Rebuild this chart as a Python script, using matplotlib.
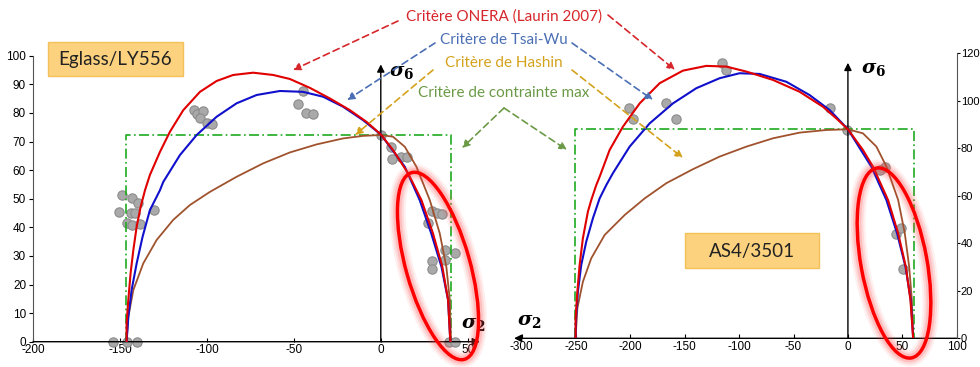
import numpy as np
import matplotlib
matplotlib.use('Agg')
import matplotlib.pyplot as plt
from matplotlib.patches import Ellipse, FancyBboxPatch, FancyArrowPatch
from matplotlib.transforms import IdentityTransform

plt.rcParams['font.family'] = ['Liberation Sans', 'DejaVu Sans']
plt.rcParams['axes.unicode_minus'] = False
plt.rcParams['mathtext.fontset'] = 'dejavuserif'

# ---- Eglass/LY556 (left panel) ----
eg_onera_x = [-146.2, -146.2, -145.2, -143.9, -142.3, -140.4, -138.1, -135.6, -132.8, -127, -121.3, -113.6,
              -104, -94.4, -84.9, -73.4, -61.9, -52.3, -40.8, -29.3, -17.8, -8.2, 0,
              7.1, 15.7, 23.4, 30, 35.4, 38.7, 40]
eg_onera_y = [0, 6.4, 14.6, 23.9, 32.1, 40.2, 47.2, 53.0, 58.3, 66.4, 73.4, 81.0,
              87.4, 91.2, 93.3, 94.1, 93.3, 91.9, 88.8, 85.1, 81.0, 76.9, 72.5,
              67, 58.9, 49.5, 37.9, 26.2, 14.6, 0]
eg_tsai_x = [-146.2, -145.2, -143.3, -140.4, -137, -132.8, -127, -125.1, -115.5, -105.9, -94.4, -82.9,
             -71.4, -58, -44.7, -33.2, -21.7, -10.2, 0, 13.8, 22.4, 29, 34.9, 38.7, 40]
eg_tsai_y = [0, 8.7, 18.1, 27.4, 36.7, 46.0, 53.0, 55.9, 65.3, 72.3, 78.7, 83.4,
             86.3, 87.7, 87.4, 85.7, 82.2, 77.5, 72.5, 61.2, 49.5, 37.9, 26.2, 14.6, 0]
eg_hashin_x = [-146.2, -145.2, -142.3, -136.6, -128.9, -119.4, -109.8, -98.3, -82.9, -67.6, -52.3, -37,
               -21.7, -10.2, 0, 7, 13.8, 20.5, 28.2, 33.9, 37.7, 39.7, 40.4]
eg_hashin_y = [0, 8.7, 18.1, 27.4, 35.6, 42.6, 47.8, 52.4, 57.7, 62.4, 66.2, 69,
               71.1, 72, 72.3, 71.7, 68.2, 61.2, 49.5, 37.9, 26.2, 14.6, 0]
eg_box = [-146.5, 40.6, 72.3]   # Yc, Yt, S
eg_pts_x = [-153.8, -146.2, -140.0, -149.0, -150.6, -143.3, -139.5, -143.9, -141.4, -146.2, -142.9, -138.5,
            -130.5, -107.3, -105.9, -102.1, -104.0, -100.2, -97.3, -44.6, -47.5, -43.1, -38.9, 0.4,
            5.6, 6.7, 11.9, 15.1, 27.2, 29.7, 32.4, 35.4, 36.8, 37.2, 29.7, 29.7, 42.9, 39.3, 42.5]
eg_pts_y = [0, 0, 0, 51.3, 45.5, 50.1, 48.4, 44.9, 45.1, 41.6, 40.8, 41.1,
            46.0, 81.2, 79.8, 80.8, 78.1, 76.6, 76.3, 87.8, 83.3, 80.1, 79.8, 72.3,
            68.2, 63.8, 64.5, 64.7, 41.6, 45.8, 44.9, 44.5, 32.1, 28.6, 28.3, 25.4, 31.1, 0, 0]

# ---- AS4/3501 (right panel) ----
as_onera_x = [-250.4, -250.4, -248.8, -246.7, -243.7, -239.1, -236, -231.4, -228.3, -219.1, -206.9, -191.5,
              -173.1, -151.7, -130.2, -111.8, -93.4, -69, -44.4, -23, -10.7, 0,
              13.8, 23, 36.9, 46.2, 53.2, 57.5, 60]
as_onera_y = [0, 8.4, 19.6, 30.9, 42.1, 53.3, 58.2, 64.5, 68.0, 79.3, 89.1, 98.9,
              107.4, 112.7, 114.7, 114.4, 112.3, 108.8, 103.8, 97.5, 92.6, 88,
              79.3, 72.3, 58.2, 44.2, 30.2, 16.1, 0]
as_tsai_x = [-250.4, -250.0, -248.3, -245.2, -240.6, -234.5, -228.3, -222.2, -216.1, -200.7, -182.3, -160.9,
             -139.4, -118, -99.6, -81.2, -56.6, -35.2, -16.8, 0, 21.5, 35.4, 45.2, 52.9, 57.8, 60]
as_tsai_y = [0, 8.4, 19.6, 30.9, 40.7, 50.5, 58.9, 64.5, 69.5, 80.7, 90.5, 98.9,
             105.3, 109.5, 111.6, 111.3, 108, 102.4, 96.1, 88, 72.3, 58.2, 44.2, 30.2, 16.1, 0]
as_hashin_x = [-250.4, -248.8, -243.7, -236, -223.7, -205.3, -186.9, -167, -142.5, -118, -93.4, -69,
               -44.4, -19.9, 0, 13.8, 26.2, 35.4, 46.2, 52.3, 56.3, 58.8, 60]
as_hashin_y = [0, 12.6, 23.8, 33.7, 43.5, 51.9, 58.9, 65.3, 71.2, 76.5, 80.7, 84.2,
               86.6, 87.7, 88, 86.3, 80.7, 72.3, 58.2, 44.2, 30.2, 16.1, 0]
as_box = [-251, 60.6, 88]
as_pts_x = [-116, -112.3, -200.9, -197.5, -167.1, -157.8, -16.9, -0.9, 33.8, 29.8, 44.6, 48.6, 50.8]
as_pts_y = [116.1, 113, 96.8, 92.2, 99.2, 92.2, 96.8, 87.7, 72.3, 70.9, 43.8, 46.6, 29.1]

RED = '#e00000'
BLUE = '#1010cc'
BROWN = '#a0522d'
GREEN = '#1faa1f'

fig = plt.figure(figsize=(9.8, 3.67), dpi=100)
ax1 = fig.add_axes([0.0337, 0.0689, 0.456, 0.779])
ax2 = fig.add_axes([0.5323, 0.0782, 0.4439, 0.7766])


def draw_panel(ax, ox, oy, tx, ty, hx, hy, box, px, py):
    ax.scatter(px, py, s=45, color='#a9a9a9', edgecolor='#8c8c8c', lw=0.8, zorder=2, clip_on=False)
    ax.plot([box[0], box[0], box[1], box[1]], [0, box[2], box[2], 0], color=GREEN, lw=1.2,
            ls=(0, (6, 2, 1, 2)), zorder=3)
    ax.plot(hx, hy, color=BROWN, lw=1.3, zorder=4, solid_joinstyle='round')
    ax.plot(tx, ty, color=BLUE, lw=1.5, zorder=5, solid_joinstyle='round')
    ax.plot(ox, oy, color=RED, lw=1.5, zorder=6, solid_joinstyle='round')


draw_panel(ax1, eg_onera_x, eg_onera_y, eg_tsai_x, eg_tsai_y, eg_hashin_x, eg_hashin_y, eg_box, eg_pts_x, eg_pts_y)
draw_panel(ax2, as_onera_x, as_onera_y, as_tsai_x, as_tsai_y, as_hashin_x, as_hashin_y, as_box, as_pts_x, as_pts_y)

arr = dict(arrowstyle='-|>', color='black', lw=1.0, mutation_scale=11, shrinkA=0, shrinkB=0)

# left panel axes
ax1.set_xlim(-200, 57)
ax1.set_ylim(0, 100)
for s in ['top', 'right', 'bottom']:
    ax1.spines[s].set_visible(False)
ax1.spines['left'].set_color('#555555')
ax1.set_xticks([-200, -150, -100, -50, 0, 50])
ax1.set_yticks(np.arange(0, 101, 10))
ax1.tick_params(axis='x', direction='in', length=3, labelsize=8.5, pad=2)
ax1.tick_params(axis='y', direction='out', length=3, labelsize=8.5, pad=2)
ax1.annotate('', xy=(57, 0), xytext=(-200, 0), arrowprops=arr, annotation_clip=False)
ax1.annotate('', xy=(0, 97), xytext=(0, 0), arrowprops=arr, annotation_clip=False)
ax1.text(5, 94, r'$\boldsymbol{\sigma}_\mathbf{6}$', fontsize=14, va='center', ha='left')
ax1.text(53, 6, r'$\boldsymbol{\sigma}_\mathbf{2}$', fontsize=14, va='center', ha='center')

# right panel axes
ax2.set_xlim(-300, 100)
ax2.set_ylim(0, 120)
for s in ['top', 'left', 'bottom']:
    ax2.spines[s].set_visible(False)
ax2.spines['right'].set_color('#555555')
ax2.yaxis.tick_right()
ax2.set_xticks(np.arange(-300, 101, 50))
ax2.set_yticks(np.arange(0, 121, 20))
ax2.tick_params(axis='x', direction='in', length=3, labelsize=8.5, pad=2)
ax2.tick_params(axis='y', direction='out', length=2, labelsize=8, pad=1)
ax2.annotate('', xy=(-307, 0), xytext=(100, 0), arrowprops=arr, annotation_clip=False)
ax2.annotate('', xy=(0, 116), xytext=(0, 0), arrowprops=arr, annotation_clip=False)
ax2.text(12, 113, r'$\boldsymbol{\sigma}_\mathbf{6}$', fontsize=14, va='center', ha='left')
ax2.text(-293, 7, r'$\boldsymbol{\sigma}_\mathbf{2}$', fontsize=14, va='center', ha='center')

H = 367.0


def fpt(x, y):
    return (x / 980.0, 1 - y / H)


# material labels
for (x0, y0, x1, y1), label in [((48, 42, 183, 76), 'Eglass/LY556'), ((685, 233, 819, 268), 'AS4/3501')]:
    fig.patches.append(FancyBboxPatch(fpt(x0, y1), (x1 - x0) / 980.0, (y1 - y0) / H,
                                      boxstyle='square,pad=0', transform=fig.transFigure,
                                      facecolor='#fcd27e', edgecolor='#f3c15a', lw=1.0))
    fig.text(*fpt((x0 + x1) / 2, (y0 + y1) / 2 + 1), label, family=['Lato', 'DejaVu Sans'],
             fontsize=13.5, ha='center', va='center', color='#222222')

# criteria legend with dashed arrows
legend = [('Critère ONERA (Laurin 2007)', '#d7262b', 17, [((398, 21), (293, 70)), ((608, 15), (675, 70))]),
          ('Critère de Tsai-Wu', '#4b6fb4', 40, [((435, 43), (347, 100)), ((572, 43), (653, 100))]),
          ('Critère de Hashin', '#d4a21c', 63, [((433, 70), (355, 135)), ((572, 70), (683, 158))]),
          ('Critère de contrainte max', '#6b9a47', 93, [((504, 108), (462, 148)), ((504, 108), (567, 150))])]
for label, col, ty, arrows in legend:
    fig.text(*fpt(504, ty), label, family=['Lato', 'DejaVu Sans'], fontsize=11, color=col,
             ha='center', va='center')
    for start, end in arrows:
        fig.add_artist(FancyArrowPatch(
            fpt(*start), fpt(*end), transform=fig.transFigure, arrowstyle='-|>', mutation_scale=11,
            color=col, lw=1.2, ls=(0, (4, 2.5)), shrinkA=0, shrinkB=0))

# red highlight ellipses (pixel coords, with glow)
for cx, cy, w, h, ang in [(438, 266, 194, 64, 105.8), (894, 263, 193, 66, 100.4)]:
    for lw, a in [(12, 0.08), (9, 0.12), (6, 0.18)]:
        fig.add_artist(Ellipse((cx, H - cy), w, h, angle=ang, transform=IdentityTransform(),
                               fill=False, edgecolor='#ff4040', lw=lw, alpha=a))
    fig.add_artist(Ellipse((cx, H - cy), w, h, angle=ang, transform=IdentityTransform(),
                           fill=False, edgecolor='#ff0000', lw=2.5))

fig.savefig('out.png', dpi=100)
